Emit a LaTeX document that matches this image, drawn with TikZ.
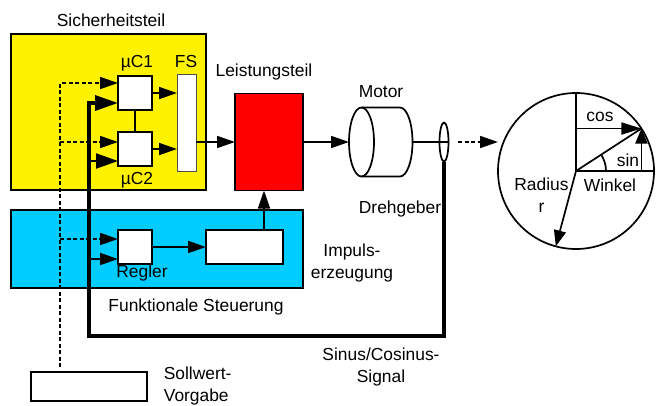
\documentclass[tikz,border=0pt]{standalone}
\usepackage{fontspec}
\setmainfont{Liberation Sans}
\usetikzlibrary{arrows.meta,shapes.geometric}
\tikzset{
every picture/.style={
line width=1.7pt
}}

\begin{document}
\begin{tikzpicture}[x=1pt, y=-1pt, font=\fontsize{17.4}{21.5}\selectfont,
block/.style = {rectangle, draw=black, inner sep=0pt, outer sep=0pt},
label/.style = {inner sep=0pt, align=center},
arr/.style = {-{Triangle[length=18pt,width=12pt]}},
fat/.style = {line width=3.5pt, -{Triangle[length=23pt,width=15pt]}},
mid/.style = {line width=2.2pt, -{Triangle[length=22pt,width=15pt]}},
soll/.style = {dash pattern=on 4pt off 2.5pt, -{Triangle[length=18pt,width=12pt]}}]

\useasboundingbox (0,0) rectangle (658,405);

\node (sicher) [block, fill=yellow, minimum width=195pt, minimum height=156pt] at (108.5,112) {};
\node (funktion) [block, fill={rgb,255:red,0;green,204;blue,255}, minimum width=292pt, minimum height=78pt] at (157,249) {};

\node (uca) [block, fill=white, minimum width=34pt, minimum height=34pt] at (135,93) {};
\node (ucb) [block, fill=white, minimum width=34pt, minimum height=34pt] at (135,149) {};
\node (fs) [block, fill=white, draw=black!70, line width=0.7pt, minimum width=19pt, minimum height=97pt] at (186.5,122.5) {};
\node (leistung) [block, fill=red, minimum width=68pt, minimum height=97pt] at (269,142) {};
\node (regler) [block, fill=white, minimum width=34pt, minimum height=34pt] at (135,247) {};
\node (impuls) [block, fill=white, minimum width=77pt, minimum height=34pt] at (244.5,247) {};
\node (vorgabe) [block, fill=white, minimum width=116pt, minimum height=29pt] at (89,386.5) {};

% Motor und Drehgeber
\node (motor) [ellipse, draw, inner sep=0pt, outer sep=0pt, minimum width=25pt, minimum height=69pt] at (361.5,142) {};
\draw (motor.north) -- (400,107.5) arc [start angle=90, end angle=-90, x radius=12.5pt, y radius=34.5pt] -- (motor.south);
\coordinate (welle) at (412.5,142);
\node (geber) [ellipse, draw, inner sep=0pt, outer sep=0pt, minimum width=9pt, minimum height=39pt] at (444,142) {};
\draw (welle) -- (geber.east);

\coordinate (sollab) at (60,367);
\coordinate (sollc) at (118,83);
\coordinate (solld) at (118,142);
\coordinate (solle) at (118,239);
\coordinate (istc) at (118,103);
\coordinate (istd) at (118,161);
\coordinate (iste) at (118,259);
\coordinate (ruck) at (89,336);
\coordinate (impulsaus) at (264,230);

\draw [soll] (sollab) |- (sollc);
\draw [soll] (sollab |- solld) -- (solld);
\draw [soll] (sollab |- solle) -- (solle);

\draw [fat] (geber.south) |- (ruck) |- (istc);
\draw [mid] (ruck |- istd) -- (istd);
\draw [arr] (ruck |- iste) -- (iste);

\draw (uca) -- (ucb);
\draw [arr] (uca.east) -- (uca.east -| fs.west);
\draw [arr] (ucb.east) -- (ucb.east -| fs.west);
\draw [arr] (leistung.west -| fs.east) -- (leistung.west);
\draw [arr] (leistung.east) -- (motor.west);
\draw [arr] (regler.east) -- (impuls.west);
\draw [arr] (impulsaus) -- (impulsaus |- leistung.south);

% Zeigerdiagramm
\node (kreis) [circle, draw, inner sep=0pt, outer sep=0pt, minimum size=156pt] at (576,171) {};
\coordinate (pfeilstart) at (458,142);
\draw [soll] (pfeilstart) -- (pfeilstart -| kreis.west);
\draw (kreis.center) -- (kreis.north);
\draw (kreis.center) -- (kreis.east);
\draw (kreis.center) -- (kreis.33);
\draw [-{Triangle[length=20pt,width=12pt]}] (kreis.center |- kreis.33) -- (kreis.33);
\draw [-{Triangle[length=15pt,width=12pt]}] (kreis.center -| kreis.33) -- (kreis.33);
\draw [-{Triangle[length=16pt,width=12pt]}] (kreis.center) -- (kreis.255);
\draw (606,171) arc [start angle=0, end angle=33, radius=30pt];

\node (tsicher) [label] at (111,20) {Sicherheitsteil};
\node (tuca) [label] at (137,63) {µC1};
\node (tucb) [label] at (137,180) {µC2};
\node (tfs) [label] at (186,62) {FS};
\node (tleistung) [label] at (264,72) {Leistungsteil};
\node (tregler) [label] at (142,273) {Regler};
\node (tfunktion) [label] at (196,307) {Funktionale Steuerung};
\node (timpuls) [label] at (352,263) {Impuls-\\erzeugung};
\node (tmotor) [label] at (381,92) {Motor};
\node (tgeber) [label] at (400,209) {Drehgeber};
\node (tsignal) [label] at (381,367) {Sinus/Cosinus-\\Signal};
\node (tvorgabe) [label, align=left, anchor=west] at (163,386) {Sollwert-\\Vorgabe};
\node (tradius) [label] at (541.5,195) {Radius\\r};
\node (tcos) [label] at (600,117) {cos};
\node (tsin) [label] at (628,160) {sin};
\node (twinkel) [label] at (610,185) {Winkel};

\end{tikzpicture}
\end{document}
